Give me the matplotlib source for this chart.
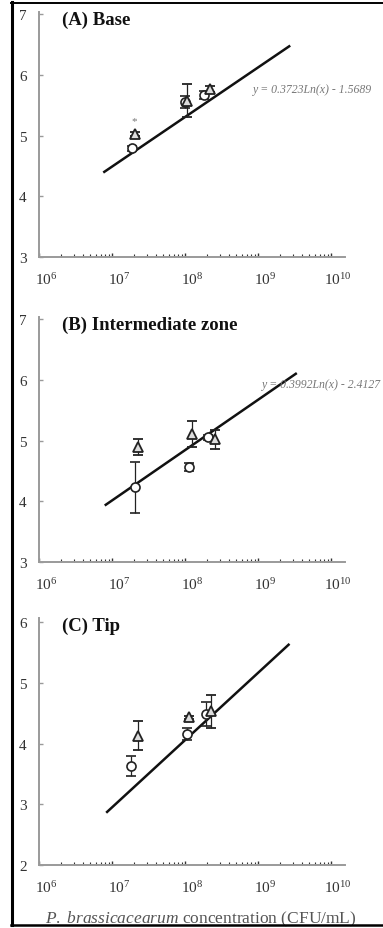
import numpy as np
import matplotlib
matplotlib.use('Agg')
import matplotlib.pyplot as plt
from matplotlib.lines import Line2D
from matplotlib.transforms import ScaledTranslation
from matplotlib.ticker import LogLocator, NullFormatter, FixedLocator

plt.rcParams['font.family'] = ['Liberation Serif', 'DejaVu Serif']
plt.rcParams['mathtext.fontset'] = 'custom'
plt.rcParams['mathtext.rm'] = 'Liberation Serif'
plt.rcParams['mathtext.it'] = 'Liberation Serif:italic'
plt.rcParams['mathtext.bf'] = 'Liberation Serif:bold'

# ---------------- data ----------------
panel_titles = ['(A) Base', '(B) Intermediate zone', '(C) Tip']
y_limits = [(3, 7.033), (3, 7.033), (2, 6.066)]
y_ticks = [[3, 4, 5, 6, 7], [3, 4, 5, 6, 7], [2, 3, 4, 5, 6]]
x_tick_exps = [6, 7, 8, 9, 10]

# circles: x (CFU/mL), y, error
circ_x = [[1.86e7, 1.0e8, 1.82e8], [2.05e7, 1.12e8, 2.04e8], [1.82e7, 1.07e8, 1.95e8]]
circ_y = [[4.79, 5.55, 5.67], [4.23, 4.56, 5.05], [3.63, 4.15, 4.49]]
circ_e = [[0.04, 0.10, 0.07], [0.42, 0.07, 0.04], [0.16, 0.10, 0.20]]

# triangles: x (CFU/mL), y, error
tri_x = [[2.04e7, 1.07e8, 2.19e8], [2.24e7, 1.23e8, 2.57e8], [2.29e7, 1.15e8, 2.29e8]]
tri_y = [[5.02, 5.57, 5.76], [4.89, 5.11, 5.02], [4.13, 4.43, 4.53]]
tri_e = [[0.03, 0.27, 0.05], [0.13, 0.21, 0.16], [0.24, 0.03, 0.27]]

# regression lines (read endpoints): x0, x1, y0, y1
fit_x = [[10**6.88, 10**9.44], [10**6.90, 10**9.53], [10**6.92, 10**9.43]]
fit_y = [[4.39, 6.48], [3.93, 6.11], [2.86, 5.64]]

equations = ['y = 0.3723Ln(x) - 1.5689', 'y = 0.3992Ln(x) - 2.4127', None]
eq_pos = [(10**8.93, 5.77), (10**9.05, 5.93), None]

star_pos = (2.0e7, 5.24)

xlabel_text = r'$\mathit{P.\ brassicacearum}$ concentration (CFU/mL)'

# ---------------- figure ----------------
W, H = 383, 929
fig = plt.figure(figsize=(W / 100, H / 100), dpi=100)
fig.patch.set_facecolor('white')

# (bottom_px, top_px) of each axes
rects_px = [(258, 13), (563, 318), (866, 619)]
left_px, right_px = 39, 345

axis_grey = '#9a9a9a'
title_y = [6.92, 6.92, 5.95]

for i in range(3):
    b, t = rects_px[i]
    ax = fig.add_axes([left_px / W, 1 - b / H, (right_px - left_px) / W, (b - t) / H])
    ax.set_xscale('log')
    ax.set_xlim(1e6, 10**10.19)
    ax.set_ylim(*y_limits[i])
    for s in ['top', 'right']:
        ax.spines[s].set_visible(False)
    for s in ['left', 'bottom']:
        ax.spines[s].set_color(axis_grey)
        ax.spines[s].set_linewidth(1.4)

    ax.set_yticks(y_ticks[i])
    ax.set_yticklabels([str(v) for v in y_ticks[i]])
    ax.tick_params(axis='y', direction='in', length=3, width=1, color=axis_grey,
                   labelsize=11, pad=9, labelcolor='#333333')

    ax.xaxis.set_major_locator(FixedLocator([10.0**e for e in x_tick_exps]))
    ax.xaxis.set_minor_locator(LogLocator(base=10, subs=np.arange(2, 10)))
    ax.xaxis.set_minor_formatter(NullFormatter())
    ax.set_xticklabels([r'$\mathregular{10^{%d}}$' % e for e in x_tick_exps])
    ax.tick_params(axis='x', which='major', direction='in', length=3, width=1,
                   color='#333333', labelsize=11, pad=10, labelcolor='#333333')
    ax.tick_params(axis='x', which='minor', direction='in', length=2, width=0.8,
                   color='#333333')
    off = ScaledTranslation(0.07, 0, fig.dpi_scale_trans)
    for lbl in ax.get_xticklabels():
        lbl.set_transform(lbl.get_transform() + off)

    # regression line
    ax.plot(fit_x[i], fit_y[i], color='#111111', lw=1.8, solid_capstyle='butt', zorder=2)

    # data points
    ax.errorbar(circ_x[i], circ_y[i], yerr=circ_e[i], fmt='o', ms=6.5,
                mfc='white', mec='#222222', mew=1.2, ecolor='#222222',
                elinewidth=0.9, capsize=3.5, capthick=0.9, zorder=3)
    ax.errorbar(tri_x[i], tri_y[i], yerr=tri_e[i], fmt='^', ms=6.5,
                mfc='#dddddd', mec='#222222', mew=1.3, ecolor='#222222',
                elinewidth=0.9, capsize=3.5, capthick=0.9, zorder=4)

    # panel title
    ax.text(10**6.31, title_y[i], panel_titles[i], fontsize=13.5, fontweight='bold',
            ha='left', va='center', color='#111111')

    if equations[i] is not None:
        ax.text(eq_pos[i][0], eq_pos[i][1], equations[i], fontsize=8.5, style='italic',
                ha='left', va='center', color='#777777', clip_on=False)

    if i == 0:
        ax.text(star_pos[0], star_pos[1], '*', fontsize=8, ha='center', va='center',
                color='#777777')

    if i == 2:
        ax.set_xlabel(xlabel_text, fontsize=12.5, color='#555555')
        ax.xaxis.set_label_coords(0.53, -0.176)

# border lines (figure pixel coordinates)
fig.add_artist(Line2D([12 / W, 12 / W], [1 - 3 / H, 1 - 926 / H], transform=fig.transFigure,
                      color='black', lw=2.2))
fig.add_artist(Line2D([11 / W, 1.0], [1 - 3.5 / H, 1 - 3.5 / H], transform=fig.transFigure,
                      color='black', lw=1.4))
fig.add_artist(Line2D([11 / W, 1.0], [1 - 925.5 / H, 1 - 925.5 / H], transform=fig.transFigure,
                      color='black', lw=1.8))

fig.savefig('out.png', dpi=100, facecolor='white')
